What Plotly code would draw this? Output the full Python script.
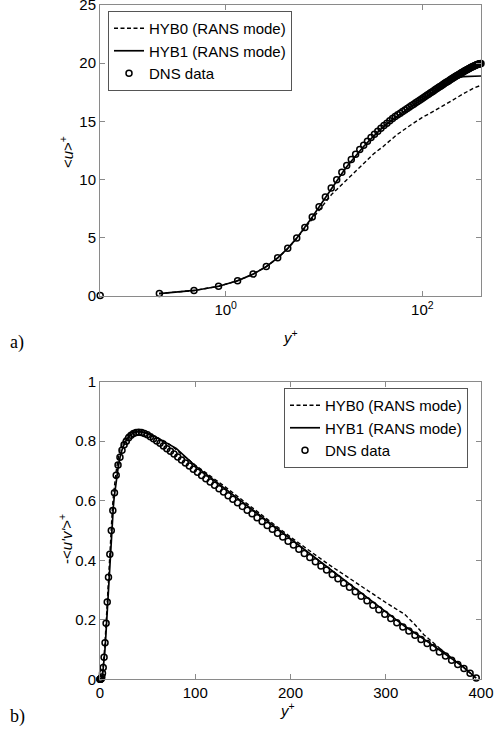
import plotly.graph_objects as go

# ---------------- DATA ----------------
# DNS wall-normal positions (y+)
dns_y = [0.0, 0.0529, 0.2115, 0.4758, 0.8457, 1.321, 1.902, 2.588, 3.379, 4.275,
         5.276, 6.381, 7.590, 8.903, 10.32, 11.84, 13.46, 15.18, 17.01, 18.94,
         20.96, 23.09, 25.32, 27.64, 30.07, 32.59, 35.20, 37.92, 40.73, 43.63,
         46.64, 49.73, 52.92, 56.20, 59.56, 63.02, 66.57, 70.20, 73.92, 77.73,
         81.63, 85.60, 89.66, 93.81, 98.02, 102.33, 106.70, 111.16, 115.70, 120.30,
         124.98, 129.73, 134.55, 139.45, 144.42, 149.45, 154.54, 159.70, 164.92, 170.21,
         175.55, 180.96, 186.41, 191.93, 197.50, 203.12, 208.80, 214.52, 220.30, 226.12,
         231.99, 237.90, 243.84, 249.84, 255.86, 261.93, 268.03, 274.16, 280.34, 286.53,
         292.77, 299.02, 305.30, 311.62, 317.94, 324.28, 330.65, 337.04, 343.44, 349.85,
         356.28, 362.72, 369.17, 375.62, 382.08, 388.54, 395.0]
# DNS mean velocity <u>+
dns_u = [0.0, 0.053, 0.211, 0.475, 0.843, 1.31, 1.88, 2.54, 3.29, 4.11,
         4.99, 5.89, 6.79, 7.67, 8.50, 9.28, 9.99, 10.63, 11.21, 11.72,
         12.18, 12.59, 12.96, 13.30, 13.61, 13.90, 14.16, 14.41, 14.64, 14.85,
         15.05, 15.24, 15.42, 15.57, 15.71, 15.85, 15.98, 16.11, 16.24, 16.36,
         16.48, 16.60, 16.71, 16.82, 16.93, 17.04, 17.14, 17.24, 17.34, 17.44,
         17.53, 17.62, 17.71, 17.80, 17.89, 17.97, 18.05, 18.13, 18.21, 18.29,
         18.36, 18.43, 18.50, 18.57, 18.64, 18.70, 18.77, 18.83, 18.89, 18.95,
         19.01, 19.06, 19.12, 19.17, 19.22, 19.27, 19.32, 19.37, 19.42, 19.46,
         19.50, 19.55, 19.59, 19.63, 19.67, 19.70, 19.74, 19.77, 19.80, 19.83,
         19.86, 19.88, 19.91, 19.93, 19.95, 19.96, 19.97]
# DNS Reynolds shear stress -<u'v'>+
dns_uv = [0.0, 0.0, 0.0, 0.0001, 0.0006, 0.002, 0.008, 0.020, 0.040, 0.074,
          0.123, 0.188, 0.260, 0.343, 0.420, 0.500, 0.567, 0.627, 0.686, 0.720,
          0.746, 0.770, 0.788, 0.800, 0.812, 0.820, 0.826, 0.829, 0.830, 0.829,
          0.826, 0.822, 0.815, 0.808, 0.801, 0.793, 0.784, 0.775, 0.766, 0.757,
          0.747, 0.737, 0.727, 0.717, 0.706, 0.696, 0.685, 0.674, 0.663, 0.652,
          0.640, 0.629, 0.617, 0.605, 0.593, 0.581, 0.568, 0.556, 0.543, 0.530,
          0.517, 0.504, 0.491, 0.478, 0.464, 0.451, 0.437, 0.423, 0.409, 0.395,
          0.381, 0.367, 0.352, 0.338, 0.323, 0.309, 0.294, 0.279, 0.264, 0.249,
          0.234, 0.219, 0.204, 0.190, 0.176, 0.162, 0.148, 0.134, 0.120, 0.106,
          0.092, 0.078, 0.064, 0.050, 0.036, 0.020, 0.004]

# HYB0 (RANS mode) mean velocity
hyb0_y = [0.21, 0.48, 0.85, 1.32, 1.9, 2.6, 3.4, 4.3, 5.3, 6.4, 7.6, 8.9, 10.3, 12.0,
          13.5, 17.0, 21.6, 25.0, 31.8, 40.0, 45.0, 55.0, 75.0, 100.0, 120.0, 150.0,
          200.0, 265.0, 330.0, 395.0]
hyb0_u = [0.21, 0.475, 0.84, 1.31, 1.88, 2.54, 3.28, 4.09, 4.95, 5.82, 6.66, 7.42, 8.1, 8.75,
          9.15, 9.95, 10.8, 11.3, 12.2, 12.85, 13.2, 13.85, 14.65, 15.35, 15.7, 16.2,
          16.8, 17.4, 17.85, 18.1]
# HYB1 (RANS mode) mean velocity
hyb1_y = [0.21, 0.48, 0.85, 1.32, 1.9, 2.6, 3.4, 4.3, 5.3, 6.4, 7.6, 8.9, 10.3, 11.8,
          13.5, 15.2, 17.0, 19.0, 21.0, 25.0, 30.0, 35.0, 40.0, 50.0, 60.0, 70.0, 80.0,
          100.0, 120.0, 140.0, 160.0, 180.0, 200.0, 230.0, 260.0, 300.0, 350.0, 395.0]
hyb1_u = [0.21, 0.475, 0.84, 1.31, 1.88, 2.54, 3.29, 4.11, 4.99, 5.89, 6.78, 7.64, 8.45, 9.2,
          9.9, 10.53, 11.1, 11.6, 12.05, 12.8, 13.5, 14.05, 14.52, 15.2, 15.65, 16.05, 16.38,
          16.9, 17.35, 17.75, 18.08, 18.35, 18.55, 18.75, 18.84, 18.88, 18.9, 18.9]

# HYB0 shear stress
hyb0s_y = [0, 2, 3, 4, 5, 6, 7, 8, 9, 10, 11, 12, 13, 14, 15, 17, 19, 21, 24, 28, 33, 38,
           45, 55, 70, 100, 130, 160, 200, 240, 260, 280, 300, 320, 330, 340, 360, 380, 395]
hyb0s_v = [0, 0.008, 0.03, 0.062, 0.11, 0.165, 0.23, 0.295, 0.36, 0.42, 0.48, 0.53, 0.575,
           0.615, 0.65, 0.70, 0.74, 0.77, 0.80, 0.82, 0.832, 0.835, 0.832, 0.82, 0.797,
           0.72, 0.65, 0.577, 0.478, 0.386, 0.343, 0.300, 0.258, 0.218, 0.186, 0.15,
           0.095, 0.045, 0.003]
# HYB1 shear stress
hyb1s_y = [0, 2, 3, 4, 5, 6, 7, 8, 9, 10, 11, 12, 13, 14, 15, 17, 19, 21, 23, 26, 30, 35,
           40, 45, 50, 60, 70, 80, 100, 120, 140, 160, 180, 200, 220, 240, 260, 280, 300,
           320, 340, 360, 380, 395]
hyb1s_v = [0, 0.006, 0.025, 0.05, 0.09, 0.14, 0.2, 0.26, 0.32, 0.38, 0.44, 0.49, 0.54, 0.58,
           0.615, 0.67, 0.71, 0.745, 0.77, 0.795, 0.815, 0.828, 0.832, 0.830, 0.826, 0.812,
           0.795, 0.776, 0.717, 0.668, 0.619, 0.57, 0.521, 0.472, 0.423, 0.374, 0.325,
           0.275, 0.224, 0.178, 0.135, 0.09, 0.045, 0.004]

top_yticks = [0, 5, 10, 15, 20, 25]
top_xticks = [1, 100]
top_xticktext = ["10<sup>0</sup>", "10<sup>2</sup>"]
bot_xticks = [0, 100, 200, 300, 400]
bot_yticks = [0, 0.2, 0.4, 0.6, 0.8, 1]
bot_yticktext = ["0", "0.2", "0.4", "0.6", "0.8", "1"]

# ---------------- FIGURE ----------------
W, H = 496, 733
FONT = "Liberation Sans, Arial, Helvetica, sans-serif"
AX = "#8a8a8a"

def px(x):
    return x / W

def py(y):
    return 1 - y / H

fig = go.Figure()

dash_style = "4px,2.5px"
# top panel
fig.add_trace(go.Scatter(x=hyb0_y, y=hyb0_u, mode="lines", name="HYB0 (RANS mode)",
                         line=dict(color="black", width=1.4, dash=dash_style),
                         xaxis="x", yaxis="y", legend="legend"))
fig.add_trace(go.Scatter(x=hyb1_y, y=hyb1_u, mode="lines", name="HYB1 (RANS mode)",
                         line=dict(color="black", width=1.7),
                         xaxis="x", yaxis="y", legend="legend"))
fig.add_trace(go.Scatter(x=dns_y[1:], y=dns_u[1:], mode="markers", name="DNS data",
                         marker=dict(symbol="circle-open", size=6, color="black",
                                     line=dict(width=1.5, color="black")),
                         cliponaxis=False, xaxis="x", yaxis="y", legend="legend"))
# bottom panel
fig.add_trace(go.Scatter(x=hyb0s_y, y=hyb0s_v, mode="lines", name="HYB0 (RANS mode)",
                         line=dict(color="black", width=1.4, dash=dash_style),
                         xaxis="x2", yaxis="y2", legend="legend2"))
fig.add_trace(go.Scatter(x=hyb1s_y, y=hyb1s_v, mode="lines", name="HYB1 (RANS mode)",
                         line=dict(color="black", width=1.7),
                         xaxis="x2", yaxis="y2", legend="legend2"))
fig.add_trace(go.Scatter(x=dns_y, y=dns_uv, mode="markers", name="DNS data",
                         marker=dict(symbol="circle-open", size=6, color="black",
                                     line=dict(width=1.5, color="black")),
                         cliponaxis=False, xaxis="x2", yaxis="y2", legend="legend2"))

axis_common = dict(showline=True, mirror="ticks", linecolor=AX, linewidth=1,
                   ticks="inside", ticklen=5, tickcolor=AX, tickwidth=1,
                   showgrid=False, zeroline=False, automargin=False,
                   ticklabeloverflow="allow",
                   tickfont=dict(family=FONT, size=15, color="black"))

L, R = 100, 481
fig.update_layout(
    width=W, height=H, template="none",
    margin=dict(l=0, r=0, t=0, b=0),
    paper_bgcolor="white", plot_bgcolor="white",
    font=dict(family=FONT, color="black"),
    xaxis=dict(type="log", domain=[px(L), px(R)], range=[-1.2785, 2.5966],
               tickvals=top_xticks, ticktext=top_xticktext, anchor="y", **axis_common),
    yaxis=dict(domain=[py(296), py(5)], range=[0, 25], tickvals=top_yticks,
               anchor="x", **axis_common),
    xaxis2=dict(domain=[px(L), px(R)], range=[0, 400], tickvals=bot_xticks,
                anchor="y2", **axis_common),
    yaxis2=dict(domain=[py(679.3), py(381.7)], range=[0, 1], tickvals=bot_yticks,
                ticktext=bot_yticktext, anchor="x2", **axis_common),
    legend=dict(x=px(108), y=py(11), xanchor="left", yanchor="top",
                bgcolor="white", bordercolor="#555", borderwidth=1,
                font=dict(family=FONT, size=15, color="black"), tracegroupgap=0),
    legend2=dict(x=px(284), y=py(388), xanchor="left", yanchor="top",
                 bgcolor="white", bordercolor="#555", borderwidth=1,
                 font=dict(family=FONT, size=15, color="black"), tracegroupgap=0),
    showlegend=True,
)

ann_font = dict(family=FONT, size=15, color="black")
serif = dict(family="Liberation Serif, DejaVu Serif, serif", size=18, color="black")

def ann(x, y, text, font, xanchor="center", angle=0):
    fig.add_annotation(x=px(x), y=py(y), xref="paper", yref="paper", showarrow=False,
                       text=text, font=font, xanchor=xanchor, yanchor="middle",
                       textangle=angle)

ann(290, 337, "<i>y</i><sup>+</sup>", ann_font)
ann(287, 709, "<i>y</i><sup>+</sup>", ann_font)
ann(66, 152, "&lt;<i>u</i>&gt;<sup>+</sup>", ann_font, angle=-90)
ann(65, 539, "-&lt;<i>u'v'</i>&gt;<sup>+</sup>", ann_font, angle=-90)
ann(8, 342, "a)", serif, xanchor="left")
ann(8, 716, "b)", serif, xanchor="left")

fig.write_html("out.html", config={"displayModeBar": False},
               post_script="document.body.style.margin='0';")
